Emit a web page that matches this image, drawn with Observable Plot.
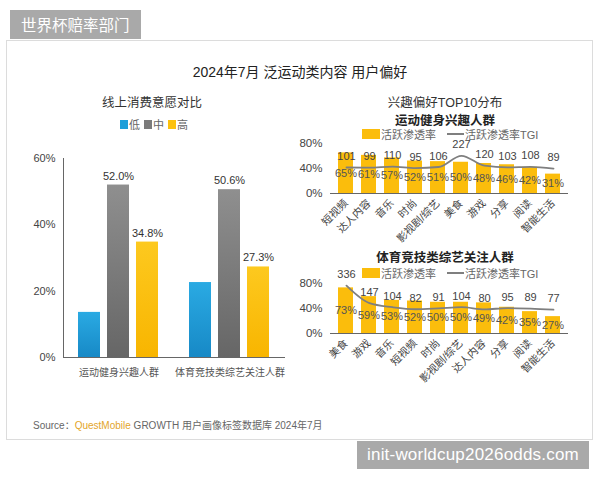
<!DOCTYPE html>
<html><head><meta charset="utf-8">
<script src="https://cdn.jsdelivr.net/npm/d3@7"></script>
<script src="https://cdn.jsdelivr.net/npm/@observablehq/plot@0.6"></script>
<style>
body{margin:0;background:#fff;font-family:"Liberation Sans","Noto Sans CJK SC",sans-serif;}
#root{position:relative;width:600px;height:480px;overflow:hidden;background:#fff;}
.abs{position:absolute;}
.ctr{text-align:center;white-space:nowrap;}
#card{left:6px;top:40px;width:585px;height:398px;border:1px solid #dcdcdc;}
#tag1{left:10px;top:10px;width:131px;height:29px;background:#a9a9a9;color:#fff;font:15.5px/29px "Noto Sans CJK SC",sans-serif;text-indent:11px;white-space:nowrap;overflow:hidden;}
#tag2{left:357px;top:441px;width:232px;height:28px;background:#a9a9a9;color:#fff;font:17px/28px "Liberation Sans",sans-serif;text-indent:10px;letter-spacing:0.2px;white-space:nowrap;}
.title{font-size:14px;color:#222;}
.sub{font-size:12.5px;color:#333;}
.sub2{font-size:12.5px;color:#222;font-weight:bold;}
.leg{font-size:11px;color:#666;white-space:nowrap;display:flex;align-items:center;}
.sw{display:inline-block;width:8px;height:9px;margin:0 1px 0 4px;}
.ysw{display:inline-block;width:18px;height:10px;background:#fbbd0c;margin-right:1px;}
.lsw{display:inline-block;width:17px;height:2px;background:#7f7f7f;margin:0 1px 0 11px;}
#src{left:33px;top:417px;font-size:10px;color:#666;white-space:nowrap;}
svg{overflow:visible;}
</style></head><body><div id="root">
<div id="card" class="abs"></div>
<div id="tag1" class="abs">世界杯赔率部门</div>
<div id="tag2" class="abs">init-worldcup2026odds.com</div>
<div class="abs ctr title" style="left:150px;top:61px;width:300px;">2024年7月 泛运动类内容 用户偏好</div>
<div class="abs ctr sub" style="left:72px;top:92px;width:160px;">线上消费意愿对比</div>
<div class="abs ctr sub" style="left:365px;top:92px;width:160px;">兴趣偏好TOP10分布</div>
<div id="leftLegend" class="abs leg" style="left:116px;top:116px;"></div>
<div id="left" class="abs" style="left:0;top:140px;"></div>
<div class="abs ctr sub2" style="left:365px;top:110px;width:160px;">运动健身兴趣人群</div>
<div class="abs leg" style="left:362px;top:126px;"><span class="ysw"></span>活跃渗透率<span class="lsw"></span>活跃渗透率TGI</div>
<div id="r1" class="abs" style="left:300px;top:136px;"></div>
<div id="r1b" class="abs" style="left:300px;top:136px;"></div>
<div class="abs ctr sub2" style="left:345px;top:247px;width:200px;">体育竞技类综艺关注人群</div>
<div class="abs leg" style="left:362px;top:265px;"><span class="ysw"></span>活跃渗透率<span class="lsw"></span>活跃渗透率TGI</div>
<div id="r2" class="abs" style="left:300px;top:270px;"></div>
<div id="r2b" class="abs" style="left:300px;top:270px;"></div>
<div id="src" class="abs">Source：<span style="color:#e3a52b">QuestMobile</span> GROWTH 用户画像标签数据库 2024年7月</div>
</div>
<script>
// ---- left chart data ----
const groups = ["运动健身兴趣人群", "体育竞技类综艺关注人群"];
const levels = ["低", "中", "高"];
const spendLow = [13.6, 22.6];
const spendMid = [52.0, 50.6];
const spendHigh = [34.8, 27.3];
const levelColors = ["#1f9fd9", "#7b7b7b", "#fcc10d"];
const yTicksLeft = [0, 20, 40, 60];

// ---- right charts data ----
const cats1 = ["短视频", "达人内容", "音乐", "时尚", "影视剧/综艺", "美食", "游戏", "分享", "阅读", "智能生活"];
const pct1 = [65, 61, 57, 52, 51, 50, 48, 46, 42, 31];
const tgi1 = [101, 99, 110, 95, 106, 227, 120, 103, 108, 89];
const cats2 = ["美食", "游戏", "音乐", "短视频", "时尚", "影视剧/综艺", "达人内容", "分享", "阅读", "智能生活"];
const pct2 = [73, 59, 53, 52, 50, 50, 49, 42, 35, 27];
const tgi2 = [336, 147, 104, 82, 91, 104, 80, 95, 89, 77];
const yTicksRight = [0, 40, 80];

const FONT = '"Liberation Sans","Noto Sans CJK SC",sans-serif';

// left legend
const ll = document.getElementById("leftLegend");
levels.forEach((l, i) => {
  const s = document.createElement("span"); s.className = "sw"; s.style.background = levelColors[i];
  ll.appendChild(s); ll.appendChild(document.createTextNode(l));
});

const spendSeries = [spendLow, spendMid, spendHigh];
const spendData = groups.flatMap((g, i) => levels.map((l, j) => ({group: g, level: l, value: spendSeries[j][i]})));

const gradIds = ["gLow", "gMid", "gHigh"];
const left = Plot.plot({
  width: 300, height: 250,
  marginLeft: 63, marginRight: 15, marginTop: 18, marginBottom: 33,
  style: {fontFamily: FONT, fontSize: "11px", color: "#444", background: "transparent"},
  fx: {domain: groups, padding: 0, label: null},
  x: {domain: levels, paddingInner: 0.227, paddingOuter: 0.47, axis: null},
  y: {domain: [0, 60], label: null},
  color: {domain: levels, range: gradIds.map(id => `url(#${id})`)},
  marks: [
    Plot.barY(spendData, {fx: "group", x: "level", y: "value", fill: "level"}),
    Plot.text(spendData.filter(d => d.level !== "低"), {fx: "group", x: "level", y: "value", text: d => d.value.toFixed(1) + "%", dy: -9, fill: "#333", fontSize: 11}),
    Plot.ruleY([0], {stroke: "#666"}),
    Plot.frame({anchor: "left", facetAnchor: "left", stroke: "#666"}),
    Plot.axisY({ticks: yTicksLeft, tickFormat: d => d + "%", tickSize: 0, tickPadding: 8, label: null, fontSize: 11}),
    Plot.axisFx({anchor: "bottom", tickSize: 0, tickPadding: 11, label: null, fontSize: 10, fill: "#555"})
  ]
});
const grads = [["#2aaae3", "#1789c6"], ["#8f8f8f", "#666666"], ["#fdc91f", "#f8b500"]];
const defs = d3.select(left).insert("defs", ":first-child");
gradIds.forEach((id, i) => {
  const g = defs.append("linearGradient").attr("id", id).attr("x1", 0).attr("y1", 0).attr("x2", 0).attr("y2", 1);
  g.append("stop").attr("offset", "0%").attr("stop-color", grads[i][0]);
  g.append("stop").attr("offset", "100%").attr("stop-color", grads[i][1]);
});
document.getElementById("left").appendChild(left);

function interest(cats, pct, tgi, marginTop, barEl, lineEl) {
  const data = cats.map((c, i) => ({cat: c, pct: pct[i], tgi: tgi[i]}));
  const common = {
    width: 300, height: marginTop + 50 + 52,
    marginLeft: 30, marginRight: 32, marginTop, marginBottom: 52,
    style: {fontFamily: FONT, fontSize: "11px", color: "#444", background: "transparent"}
  };
  const xs = {domain: cats, paddingInner: 0.35, paddingOuter: 0.22, label: null};
  const bars = Plot.plot({
    ...common,
    x: xs,
    y: {domain: [0, 80], label: null},
    marks: [
      Plot.barY(data, {x: "cat", y: "pct", fill: "#fbbd0c"}),
      Plot.text(data, Plot.stackY({x: "cat", y: "pct", text: d => d.pct + "%", fill: "#555", fontSize: 11})),
      Plot.ruleY([0], {stroke: "#666"}),
      Plot.axisY({ticks: yTicksRight, tickFormat: d => d + "%", tickSize: 0, tickPadding: 8, label: null, fontSize: 11.5}),
      Plot.axisX({tickRotate: -45, tickSize: 0, tickPadding: 8, label: null, fontSize: 10.5, fill: "#444"})
    ]
  });
  const line = Plot.plot({
    ...common,
    x: {...xs, axis: null},
    y: {domain: [-180, 360], axis: null},
    marks: [
      Plot.line(data, {x: "cat", y: "tgi", stroke: "#7f7f7f", strokeWidth: 1.8, curve: "monotone-x"}),
      Plot.text(data, {x: "cat", y: "tgi", text: "tgi", dy: -11, fill: "#444", fontSize: 11})
    ]
  });
  document.getElementById(barEl).appendChild(bars);
  document.getElementById(lineEl).appendChild(line);
}
interest(cats1, pct1, tgi1, 7, "r1", "r1b");
interest(cats2, pct2, tgi2, 13, "r2", "r2b");
</script>
</body></html>
